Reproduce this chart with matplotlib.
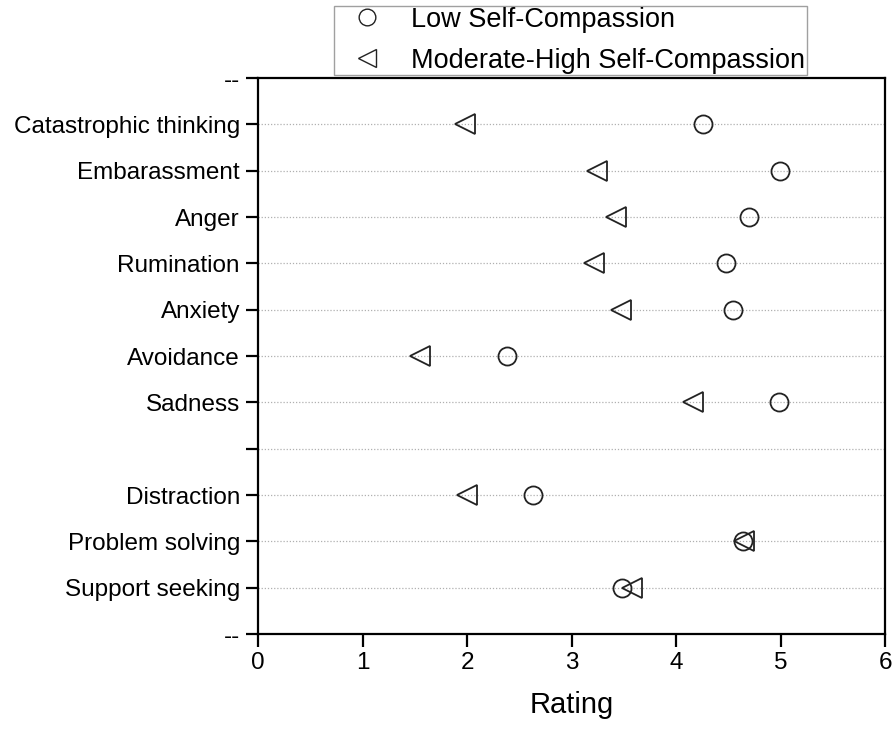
import numpy as np
import matplotlib.pyplot as plt
from matplotlib.lines import Line2D

plt.rcParams['font.family'] = ['Liberation Sans', 'DejaVu Sans']
plt.rcParams.update({'font.size': 17})

# rows from top to bottom; '' is the empty separator row
categories = ['Catastrophic thinking', 'Embarassment', 'Anger', 'Rumination',
              'Anxiety', 'Avoidance', 'Sadness', '',
              'Distraction', 'Problem solving', 'Support seeking']
low_sc = [4.26, 4.99, 4.70, 4.48, 4.54, 2.38, 4.98, np.nan, 2.63, 4.64, 3.48]
high_sc = [1.98, 3.24, 3.42, 3.21, 3.47, 1.55, 4.16, np.nan, 2.00, 4.65, 3.58]

x_ticks = [0, 1, 2, 3, 4, 5, 6]

fig = plt.figure(figsize=(8.96, 7.30), dpi=100)
ax = fig.add_axes([0.288, 0.1315, 0.700, 0.7615])

ypos = np.arange(1, len(categories) + 1)

# dotted guide lines for every row
for y in ypos:
    ax.axhline(y, color='#b0b0b0', linestyle=(0, (1, 1.5)), linewidth=0.9, zorder=1)

ax.plot(low_sc, ypos, linestyle='none', marker='o', markersize=13,
        markerfacecolor='none', markeredgecolor='#222222', markeredgewidth=1.3, zorder=3)
ax.plot(high_sc, ypos, linestyle='none', marker='<', markersize=15,
        markerfacecolor='none', markeredgecolor='#222222', markeredgewidth=1.3, zorder=3)

ax.set_xlim(0, 6)
ax.set_ylim(len(categories) + 1, 0)
ax.set_xticks(x_ticks)
ax.set_xticklabels([str(t) for t in x_ticks])
ax.set_yticks(np.arange(0, len(categories) + 2))
ax.set_yticklabels(['--'] + categories + ['--'])
ax.tick_params(axis='both', direction='out', length=9, width=1.6, labelsize=17.5, pad=4)
for s in ax.spines.values():
    s.set_linewidth(1.6)
    s.set_color('black')
ax.set_xlabel('Rating', fontsize=21, labelpad=12)

handles = [
    Line2D([], [], linestyle='none', marker='o', markersize=12,
           markerfacecolor='none', markeredgecolor='#222222', markeredgewidth=1.0),
    Line2D([], [], linestyle='none', marker='<', markersize=13,
           markerfacecolor='none', markeredgecolor='#222222', markeredgewidth=1.0),
]
leg = fig.legend(handles, ['Low Self-Compassion', 'Moderate-High Self-Compassion'],
                 loc='lower center', bbox_to_anchor=(0.6367, 0.897), fontsize=19.5,
                 frameon=True, fancybox=False, borderpad=0.05, labelspacing=0.55,
                 handletextpad=0.5, handlelength=2.3, borderaxespad=0)
leg.get_frame().set_edgecolor('#888888')
leg.get_frame().set_linewidth(1.0)

plt.savefig('out.png', dpi=100)
